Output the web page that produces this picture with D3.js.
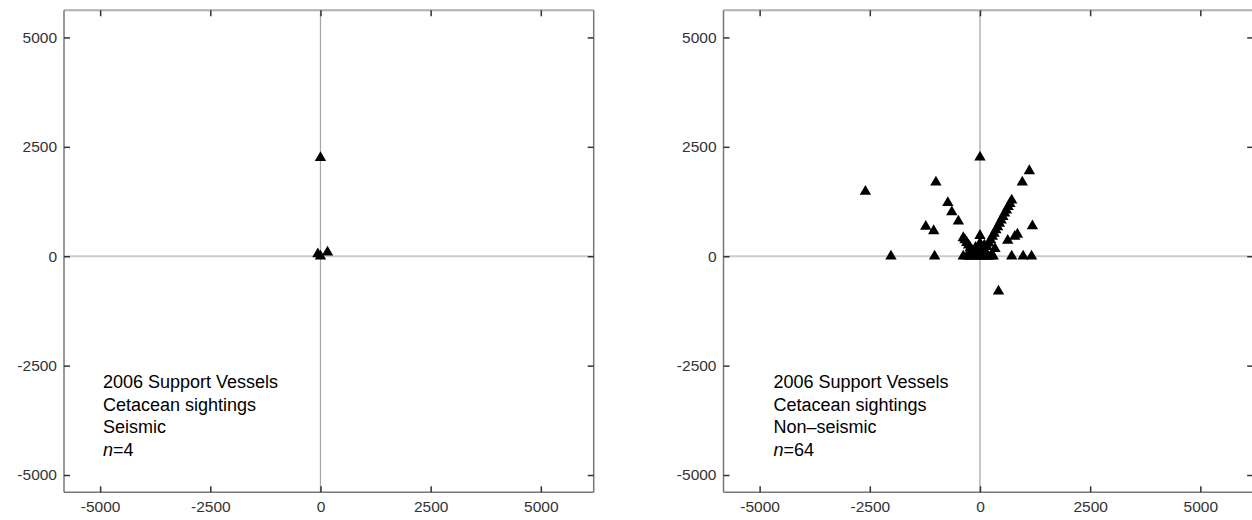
<!DOCTYPE html>
<html>
<head>
<meta charset="utf-8">
<script src="https://cdn.jsdelivr.net/npm/d3@7"></script>
<style>
  body { margin: 0; background: #fff; }
  svg { display: block; font-family: 'Liberation Sans', Arial, sans-serif; }
  .axis text { fill: #333; font-size: 15.5px; }
  .axis line { stroke: #333; stroke-width: 1.5; }
  .axis .domain { display: none; }
  .note { font-size: 18px; fill: #000; }
</style>
</head>
<body>
<div id="chart"></div>
<script>
// sightings relative to vessel (m)
const seismicX = [0, -60, 0, 160]
const seismicY = [2250, 50, 0, 90]

const nonSeismicX = [
  0, 1120, 960, -1000, -2600, -730, -640, -490, -1230, -1050, 1190, 850, 790, 630,
  -2020, -1030, 720, 980, 1170, 420, 0, 340,
  720, 680, 640, 600, 560, 520, 480, 440, 400, 360, 320, 280, 240, 200, 160,
  -380, -340, -300, -260, -220, -180, -140,
  -100, 100, 0, -50, 50, 120, -120, 0,
  -380, -300, -240, -180, -120, -60, 0, 60, 120, 180, 240, 300
]
const nonSeismicY = [
  2260, 1950, 1690, 1690, 1480, 1220, 1010, 800, 680, 580, 690, 500, 450, 360,
  0, 0, 0, 0, 0, -800, 470, 170,
  1280, 1200, 1130, 1050, 980, 900, 820, 750, 670, 600, 520, 450, 370, 300, 220,
  420, 370, 310, 250, 190, 130, 80,
  200, 250, 300, 150, 120, 100, 60, 100,
  0, 0, 0, 0, 0, 0, 0, 0, 0, 0, 0, 0
]

const tickValues = [-5000, -2500, 0, 2500, 5000]
const xDomain = [-5820, 6200]
const yDomain = [-5395, 5620]

const seismicLabels = ['2006 Support Vessels', 'Cetacean sightings', 'Seismic', '4']
const nonSeismicLabels = ['2006 Support Vessels', 'Cetacean sightings', 'Non\u2013seismic', '64']

const width = 1252
const height = 520

const svg = d3
  .select('#chart')
  .append('svg')
  .attr('width', width)
  .attr('height', height)

const panelLeft = 64
const panelTop = 10.3
const panelWidth = 529.7
const panelHeight = 482

const xPositionScale = d3.scaleLinear().domain(xDomain).range([0, panelWidth])
const yPositionScale = d3.scaleLinear().domain(yDomain).range([panelHeight, 0])
// plain hyphen, no thousands separator
const fmt = d => String(d)

function drawPanel(offsetX, xs, ys, labels, noteX) {
  const g = svg
    .append('g')
    .attr('transform', 'translate(' + (panelLeft + offsetX) + ',' + panelTop + ')')

  // zero lines
  g.append('line')
    .attr('x1', 0)
    .attr('x2', panelWidth)
    .attr('y1', yPositionScale(0))
    .attr('y2', yPositionScale(0))
    .attr('stroke', '#cccccc')
    .attr('stroke-width', 2)
  g.append('line')
    .attr('x1', xPositionScale(0))
    .attr('x2', xPositionScale(0))
    .attr('y1', 0)
    .attr('y2', panelHeight)
    .attr('stroke', '#a8a8a8')
    .attr('stroke-width', 1.3)

  // frame
  g.append('line')
    .attr('x1', 0).attr('x2', panelWidth).attr('y1', 0).attr('y2', 0)
    .attr('stroke', '#b0b0b0').attr('stroke-width', 2)
  g.append('line')
    .attr('x1', 0).attr('x2', 0).attr('y1', 0).attr('y2', panelHeight)
    .attr('stroke', '#777').attr('stroke-width', 1.5)
  g.append('line')
    .attr('x1', panelWidth).attr('x2', panelWidth).attr('y1', 0).attr('y2', panelHeight)
    .attr('stroke', '#777').attr('stroke-width', 1.5)
  g.append('line')
    .attr('x1', 0).attr('x2', panelWidth).attr('y1', panelHeight).attr('y2', panelHeight)
    .attr('stroke', '#777').attr('stroke-width', 1.5)

  // axes, ticks pointing inwards
  g.append('g')
    .attr('class', 'axis x-axis')
    .attr('transform', 'translate(0,' + panelHeight + ')')
    .call(d3.axisBottom(xPositionScale).tickValues(tickValues).tickFormat(fmt).tickSize(-6).tickPadding(9))
  g.append('g')
    .attr('class', 'axis')
    .call(d3.axisTop(xPositionScale).tickValues(tickValues).tickSize(-6).tickFormat(''))
  g.append('g')
    .attr('class', 'axis y-axis')
    .call(d3.axisLeft(yPositionScale).tickValues(tickValues).tickFormat(fmt).tickSize(-6).tickPadding(7))
  g.append('g')
    .attr('class', 'axis')
    .attr('transform', 'translate(' + panelWidth + ',0)')
    .call(d3.axisRight(yPositionScale).tickValues(tickValues).tickSize(-6).tickFormat(''))

  // points
  const triangle = d3.symbol().type(d3.symbolTriangle).size(56)
  g.selectAll('.pt')
    .data(d3.range(xs.length))
    .enter()
    .append('path')
    .attr('class', 'pt')
    .attr('d', triangle)
    .attr('transform', i => 'translate(' + xPositionScale(xs[i]) + ',' + yPositionScale(ys[i]) + ')')
    .attr('fill', '#000')

  // note
  const note = g.append('text').attr('class', 'note')
  labels.slice(0, 3).forEach((t, i) => {
    note.append('tspan').attr('x', noteX).attr('y', 378 + i * 22.5).text(t)
  })
  const last = note.append('tspan').attr('x', noteX).attr('y', 378 + 3 * 22.5)
  last.append('tspan').attr('font-style', 'italic').text('n')
  last.append('tspan').text('=' + labels[3])
}

drawPanel(0, seismicX, seismicY, seismicLabels, 39)
drawPanel(659.5, nonSeismicX, nonSeismicY, nonSeismicLabels, 50)
</script>
</body>
</html>
